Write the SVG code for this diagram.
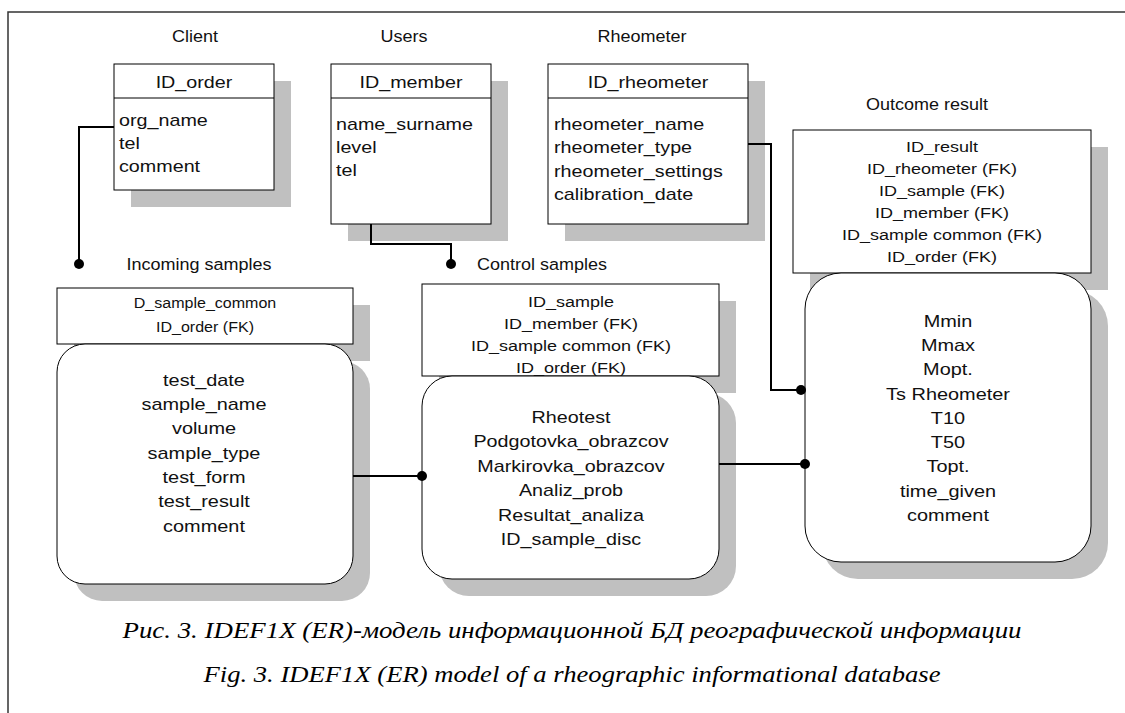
<svg xmlns="http://www.w3.org/2000/svg" width="1125" height="713" viewBox="0 0 1125 713">
<style>
.bg{fill:#ffffff}
.frame{fill:none;stroke:#333333;stroke-width:1.5}
.shadow{fill:#c0c0c0;stroke:none}
.box{fill:#ffffff;stroke:#000000;stroke-width:1}
.lbl{font-family:"Liberation Sans",Arial,sans-serif;font-size:17px;fill:#111111}
.hdr{font-family:"Liberation Sans",Arial,sans-serif;font-size:17px;fill:#111111}
.attr{font-family:"Liberation Sans",Arial,sans-serif;font-size:17px;fill:#111111}
.key{font-family:"Liberation Sans",Arial,sans-serif;font-size:15px;fill:#111111}
.mid{text-anchor:middle}
.conn{fill:none;stroke:#000000;stroke-width:2}
.dot{fill:#000000}
.cap{font-family:"Liberation Serif","Times New Roman",serif;font-style:italic;font-size:24px;fill:#000000;text-anchor:middle}
</style>
<rect class="bg" x="0" y="0" width="1125" height="713"/>
<path class="frame" d="M8,713 V12 H1125"/>

<g id="client">
  <rect class="shadow" x="131" y="81" width="160" height="126"/>
  <rect class="box" x="114" y="64" width="160" height="126"/>
  <line x1="114" y1="98" x2="274" y2="98" stroke="#000" stroke-width="1"/>
  <text class="lbl mid" transform="matrix(1.06 0 0 1 195 0)" x="0" y="42">Client</text>
  <text class="hdr mid" transform="matrix(1.16 0 0 1 194 0)" x="0" y="88">ID_order</text>
  <text class="attr" transform="matrix(1.16 0 0 1 119 0)"><tspan x="0" y="126">org_name</tspan><tspan x="0" y="149">tel</tspan><tspan x="0" y="172">comment</tspan></text>
</g>

<g id="users">
  <rect class="shadow" x="348" y="81" width="160" height="160"/>
  <rect class="box" x="331" y="64" width="160" height="160"/>
  <line x1="331" y1="98" x2="491" y2="98" stroke="#000" stroke-width="1"/>
  <text class="lbl mid" transform="matrix(1.06 0 0 1 404 0)" x="0" y="42">Users</text>
  <text class="hdr mid" transform="matrix(1.16 0 0 1 411 0)" x="0" y="88">ID_member</text>
  <text class="attr" transform="matrix(1.16 0 0 1 336 0)"><tspan x="0" y="130">name_surname</tspan><tspan x="0" y="153">level</tspan><tspan x="0" y="176">tel</tspan></text>
</g>

<g id="rheometer">
  <rect class="shadow" x="565" y="81" width="200" height="160"/>
  <rect class="box" x="548" y="64" width="200" height="160"/>
  <line x1="548" y1="98" x2="748" y2="98" stroke="#000" stroke-width="1"/>
  <text class="lbl mid" transform="matrix(1.06 0 0 1 642 0)" x="0" y="42">Rheometer</text>
  <text class="hdr mid" transform="matrix(1.16 0 0 1 648 0)" x="0" y="88">ID_rheometer</text>
  <text class="attr" transform="matrix(1.16 0 0 1 554 0)"><tspan x="0" y="130">rheometer_name</tspan><tspan x="0" y="153">rheometer_type</tspan><tspan x="0" y="177">rheometer_settings</tspan><tspan x="0" y="200">calibration_date</tspan></text>
</g>

<g id="outcome">
  <rect class="shadow" x="810" y="147" width="298" height="143"/>
  <rect class="shadow" x="822" y="290" width="286" height="289" rx="36" ry="36"/>
  <rect class="box" x="793" y="130" width="298" height="143"/>
  <rect class="box" x="805" y="273" width="286" height="289" rx="36" ry="36"/>
  <text class="lbl mid" transform="matrix(1.06 0 0 1 927 0)" x="0" y="110">Outcome result</text>
  <text class="key mid" transform="matrix(1.2 0 0 1 942 0)"><tspan x="0" y="152">ID_result</tspan><tspan x="0" y="174">ID_rheometer (FK)</tspan><tspan x="0" y="196">ID_sample (FK)</tspan><tspan x="0" y="218">ID_member (FK)</tspan><tspan x="0" y="240">ID_sample common (FK)</tspan><tspan x="0" y="262">ID_order (FK)</tspan></text>
  <text class="attr mid" transform="matrix(1.17 0 0 1 948 0)"><tspan x="0" y="327">Mmin</tspan><tspan x="0" y="351">Mmax</tspan><tspan x="0" y="375.5">Mopt.</tspan><tspan x="0" y="400">Ts Rheometer</tspan><tspan x="0" y="424">T10</tspan><tspan x="0" y="448">T50</tspan><tspan x="0" y="472.5">Topt.</tspan><tspan x="0" y="497">time_given</tspan><tspan x="0" y="521">comment</tspan></text>
</g>

<g id="incoming">
  <rect class="shadow" x="74" y="305" width="296" height="56"/>
  <rect class="shadow" x="74" y="361" width="296" height="240" rx="28" ry="28"/>
  <rect class="box" x="57" y="288" width="296" height="56"/>
  <rect class="box" x="57" y="344" width="296" height="240" rx="28" ry="28"/>
  <text class="lbl mid" transform="matrix(1.06 0 0 1 199 0)" x="0" y="270">Incoming samples</text>
  <text class="key mid" transform="matrix(1.07 0 0 1 205 0)"><tspan x="0" y="308">D_sample_common</tspan><tspan x="0" y="332">ID_order (FK)</tspan></text>
  <text class="attr mid" transform="matrix(1.17 0 0 1 204 0)"><tspan x="0" y="386">test_date</tspan><tspan x="0" y="410">sample_name</tspan><tspan x="0" y="434.5">volume</tspan><tspan x="0" y="459">sample_type</tspan><tspan x="0" y="483">test_form</tspan><tspan x="0" y="507.5">test_result</tspan><tspan x="0" y="532">comment</tspan></text>
</g>

<g id="control">
  <rect class="shadow" x="439" y="301" width="297" height="92"/>
  <rect class="shadow" x="439" y="393" width="297" height="203" rx="30" ry="30"/>
  <rect class="box" x="422" y="284" width="297" height="92"/>
  <rect class="box" x="422" y="376" width="297" height="203" rx="30" ry="30"/>
  <text class="lbl" transform="matrix(1.06 0 0 1 477 0)" x="0" y="270">Control samples</text>
  <text class="key mid" transform="matrix(1.2 0 0 1 571 0)"><tspan x="0" y="307">ID_sample</tspan><tspan x="0" y="329">ID_member (FK)</tspan><tspan x="0" y="351">ID_sample common (FK)</tspan><tspan x="0" y="373">ID_order (FK)</tspan></text>
  <text class="attr mid" transform="matrix(1.16 0 0 1 571 0)"><tspan x="0" y="423">Rheotest</tspan><tspan x="0" y="447.5">Podgotovka_obrazcov</tspan><tspan x="0" y="472">Markirovka_obrazcov</tspan><tspan x="0" y="496.5">Analiz_prob</tspan><tspan x="0" y="521">Resultat_analiza</tspan><tspan x="0" y="545">ID_sample_disc</tspan></text>
</g>

<g id="connectors">
  <polyline class="conn" points="114,127 79,127 79,264"/>
  <circle class="dot" cx="79" cy="264" r="5"/>
  <polyline class="conn" points="371,224 371,244 451,244 451,264"/>
  <circle class="dot" cx="451" cy="264" r="5"/>
  <polyline class="conn" points="748,144 771,144 771,390 805,390"/>
  <circle class="dot" cx="801" cy="390" r="5"/>
  <line class="conn" x1="353" y1="476" x2="422" y2="476"/>
  <circle class="dot" cx="422" cy="476" r="5"/>
  <line class="conn" x1="719" y1="464" x2="805" y2="464"/>
  <circle class="dot" cx="805" cy="464" r="5"/>
</g>

<g id="caption">
  <text class="cap" x="572" y="638" textLength="899" lengthAdjust="spacingAndGlyphs">Рис. 3. IDEF1X (ER)-модель информационной БД реографической информации</text>
  <text class="cap" x="572" y="682" textLength="737" lengthAdjust="spacingAndGlyphs">Fig. 3. IDEF1X (ER) model of a rheographic informational database</text>
</g>
</svg>
